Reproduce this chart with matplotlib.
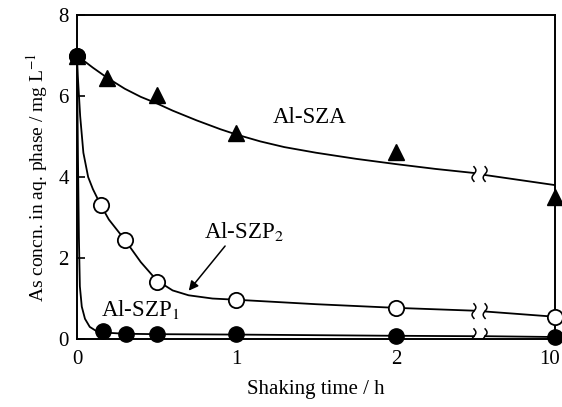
import numpy as np
import matplotlib.pyplot as plt
import matplotlib.transforms as mtransforms

plt.rcParams['font.family'] = ['Liberation Serif', 'DejaVu Serif']
plt.rcParams['mathtext.fontset'] = 'stix'

# break axis: 10 h is drawn at position 3
tick_pos = [0, 1, 2, 3]
tick_lab = ['0', '1', '2', '10']
brk = 2.525

# measured points (position on axis, concentration mg/L)
sza_t = [0, 0.19, 0.5, 1, 2, 3]
sza_c = [7.0, 6.45, 6.02, 5.08, 4.62, 3.5]
szp2_t = [0, 0.15, 0.3, 0.5, 1, 2, 3]
szp2_c = [7.0, 3.3, 2.45, 1.4, 0.97, 0.77, 0.55]
szp1_t = [0, 0.16, 0.31, 0.5, 1, 2, 3]
szp1_c = [7.0, 0.2, 0.13, 0.13, 0.12, 0.08, 0.05]

# fitted curves
sza_ft = [0, 0.05, 0.1, 0.19, 0.3, 0.4, 0.5, 0.6, 0.75, 0.9, 1, 1.15, 1.3,
          1.5, 1.75, 2, 2.25, 2.49, 2.56, 3]
sza_fc = [7.0, 6.85, 6.7, 6.45, 6.18, 5.98, 5.82, 5.64, 5.4, 5.18, 5.05,
          4.88, 4.74, 4.6, 4.45, 4.32, 4.2, 4.1, 4.05, 3.8]
szp2_ft = [0, 0.005, 0.02, 0.04, 0.07, 0.1, 0.125, 0.15, 0.2, 0.3, 0.4, 0.5,
           0.6, 0.7, 0.85, 1.0, 1.5, 2.0, 2.49, 2.56, 3]
szp2_fc = [7.0, 6.5, 5.5, 4.6, 4.0, 3.7, 3.5, 3.3, 2.95, 2.45, 1.9, 1.45,
           1.2, 1.08, 1.0, 0.97, 0.86, 0.77, 0.7, 0.68, 0.55]
szp1_ft = [0, 0.006, 0.012, 0.018, 0.03, 0.05, 0.08, 0.12, 0.17, 0.3, 0.5,
           1, 2, 2.49, 2.56, 3]
szp1_fc = [7.0, 4.5, 2.5, 1.3, 0.8, 0.5, 0.3, 0.2, 0.16, 0.13, 0.12,
           0.11, 0.08, 0.07, 0.07, 0.05]

fig = plt.figure(figsize=(5.62, 4.07), dpi=100)
ax = fig.add_axes([0.137, 0.167, 0.851, 0.796])

def draw_curve(t, c):
    t = np.array(t); c = np.array(c)
    left = t < brk
    ax.plot(t[left], c[left], color='black', lw=1.3, zorder=2)
    ax.plot(t[~left], c[~left], color='black', lw=1.3, zorder=2)
    yb = np.interp(brk, t, c)
    s = np.linspace(-1, 1, 30)
    for xb in (2.49, 2.56):
        ax.plot(xb + 0.012 * np.sin(np.pi * s), yb + 0.18 * s,
                color='black', lw=1.1, zorder=2)

draw_curve(sza_ft, sza_fc)
draw_curve(szp2_ft, szp2_fc)
draw_curve(szp1_ft, szp1_fc)

ax.plot(sza_t, sza_c, '^', color='black', ms=11, clip_on=False, zorder=4)
ax.plot(szp2_t, szp2_c, 'o', mfc='white', mec='black', mew=1.3, ms=11,
        clip_on=False, zorder=4)
ax.plot(szp1_t, szp1_c, 'o', color='black', ms=11, clip_on=False, zorder=5)

ax.text(1.46, 5.46, 'Al-SZA', fontsize=16.5, ha='center', va='center')
ax.text(1.05, 2.65, 'Al-SZP$_2$', fontsize=16.5, ha='center', va='center')
ax.text(0.40, 0.72, 'Al-SZP$_1$', fontsize=16.5, ha='center', va='center')
ax.annotate('', xy=(0.69, 1.14), xytext=(0.94, 2.35),
            arrowprops=dict(arrowstyle='-|>', color='black', lw=1.1,
                            mutation_scale=14))

ax.set_xlim(0, 3)
ax.set_ylim(0, 8)
ax.set_xticks(tick_pos)
ax.set_xticklabels(tick_lab)
ax.set_yticks([0, 2, 4, 6, 8])
ax.tick_params(axis='y', direction='in', length=6, width=1.2, labelsize=15, pad=6)
ax.tick_params(axis='x', length=0, labelsize=15, pad=8)
for sp in ax.spines.values():
    sp.set_linewidth(1.4)

# nudge the last tick label so it stays inside the picture
last = ax.get_xticklabels()[-1]
last.set_transform(last.get_transform() +
                   mtransforms.ScaledTranslation(-6 / 100, 0, fig.dpi_scale_trans))

ax.set_xlabel('Shaking time / h', fontsize=15, labelpad=8)
ax.set_ylabel('As concn. in aq. phase / mg L$^{-1}$', fontsize=14, labelpad=6)

fig.savefig('out.png', dpi=100)
